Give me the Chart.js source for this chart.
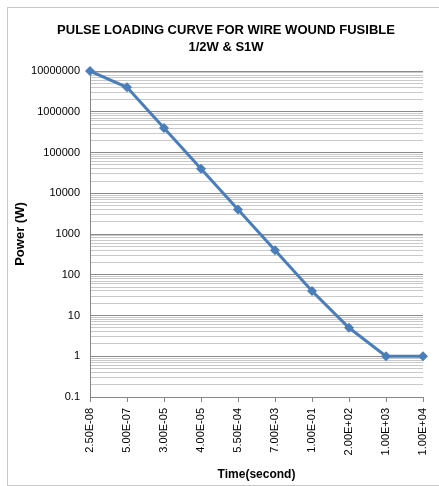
<!DOCTYPE html>
<html>
<head>
<meta charset="utf-8">
<script src="https://cdn.jsdelivr.net/npm/chart.js@4/dist/chart.umd.min.js"></script>
<style>
  html, body { margin: 0; padding: 0; background: #ffffff; }
  #wrap { position: relative; width: 439px; height: 486px; }
</style>
</head>
<body>
<div id="wrap"><canvas id="pulseChart" width="439" height="486"></canvas></div>
<script>
// Chart values
const timeCategories = ['2.50E-08', '5.00E-07', '3.00E-05', '4.00E-05', '5.50E-04',
                        '7.00E-03', '1.00E-01', '2.00E+02', '1.00E+03', '1.00E+04'];
const powerValues = [10000000, 4000000, 400000, 40000, 4000, 400, 40, 5, 1, 1];
const yTickLabels = ['0.1', '1', '10', '100', '1000', '10000', '100000', '1000000', '10000000'];
const yMin = 0.1;
const yMax = 10000000;

const lineBlue = '#4a7ebb';
const majorGrid = '#8a8a8a';
const minorGrid = '#c9c9c9';
const axisGray = '#868686';
const baseFont = '"Liberation Sans", Arial, sans-serif';

function decadeIndex(value) {
    const e = Math.log10(value);
    const r = Math.round(e);
    return Math.abs(e - r) < 1e-6 ? r : null;
}

// Excel-style minor ticks: 1..9 x 10^n, plus the top decade
function buildLogTicks(min, max) {
    const ticks = [];
    const first = Math.round(Math.log10(min));
    const last = Math.round(Math.log10(max));
    for (let e = first; e < last; e++) {
        for (let m = 1; m <= 9; m++) {
            ticks.push({ value: Number((m * Math.pow(10, e)).toPrecision(6)) });
        }
    }
    ticks.push({ value: max });
    return ticks;
}

// outer frame of the chart (only top/left visible, as in the original)
const framePlugin = {
    id: 'frame',
    beforeDraw(chart) {
        const ctx = chart.ctx;
        ctx.save();
        ctx.strokeStyle = '#c8c8c8';
        ctx.lineWidth = 1;
        ctx.strokeRect(7.5, 7.5, 440, 478);
        ctx.restore();
    }
};

const ctx = document.getElementById('pulseChart');
new Chart(ctx, {
    type: 'line',
    data: {
        labels: timeCategories,
        datasets: [{
            data: powerValues,
            borderColor: lineBlue,
            backgroundColor: lineBlue,
            borderWidth: 3,
            pointStyle: 'rectRot',
            pointRadius: 5,
            pointBorderWidth: 0,
            pointBackgroundColor: lineBlue,
            tension: 0,
            clip: false
        }]
    },
    options: {
        responsive: false,
        animation: false,
        devicePixelRatio: 1,
        layout: {
            padding: { left: 29, right: 16, top: 10, bottom: 3 }
        },
        plugins: {
            legend: { display: false },
            tooltip: { enabled: false },
            title: {
                display: true,
                text: ['PULSE LOADING CURVE FOR WIRE WOUND FUSIBLE', '1/2W & S1W'],
                color: '#000000',
                font: { family: baseFont, size: 13, weight: 'bold', lineHeight: 1.31 },
                padding: { top: 12, bottom: 15 }
            }
        },
        scales: {
            x: {
                type: 'category',
                offset: false,
                grid: {
                    drawOnChartArea: false,
                    drawTicks: true,
                    tickLength: 5,
                    color: axisGray
                },
                border: { color: axisGray },
                ticks: {
                    autoSkip: false,
                    minRotation: 90,
                    maxRotation: 90,
                    padding: 6,
                    color: '#000000',
                    font: { family: baseFont, size: 11 }
                },
                title: {
                    display: true,
                    text: 'Time(second)',
                    color: '#000000',
                    font: { family: baseFont, size: 12, weight: 'bold', lineHeight: 1.2 },
                    padding: { top: 0, bottom: 1 }
                },
                afterFit(scale) {
                    scale.height = 86;
                    scale.paddingLeft = 0;
                    scale.paddingRight = 0;
                }
            },
            y: {
                type: 'logarithmic',
                min: yMin,
                max: yMax,
                afterBuildTicks(scale) {
                    scale.ticks = buildLogTicks(yMin, yMax);
                },
                grid: {
                    drawTicks: false,
                    color: (c) => (c.tick && decadeIndex(c.tick.value) !== null) ? majorGrid : minorGrid
                },
                border: { color: axisGray },
                ticks: {
                    autoSkip: false,
                    padding: 10,
                    color: '#000000',
                    font: { family: baseFont, size: 11 },
                    callback: (value) => {
                        const e = decadeIndex(value);
                        return e === null ? '' : yTickLabels[e + 1];
                    }
                },
                title: {
                    display: true,
                    text: 'Power (W)',
                    color: '#000000',
                    font: { family: baseFont, size: 13, weight: 'bold', lineHeight: 1.2 },
                    padding: { top: -16, bottom: 0 }
                },
                afterFit(scale) { scale.width = 61; }
            }
        }
    },
    plugins: [framePlugin]
});
</script>
</body>
</html>
